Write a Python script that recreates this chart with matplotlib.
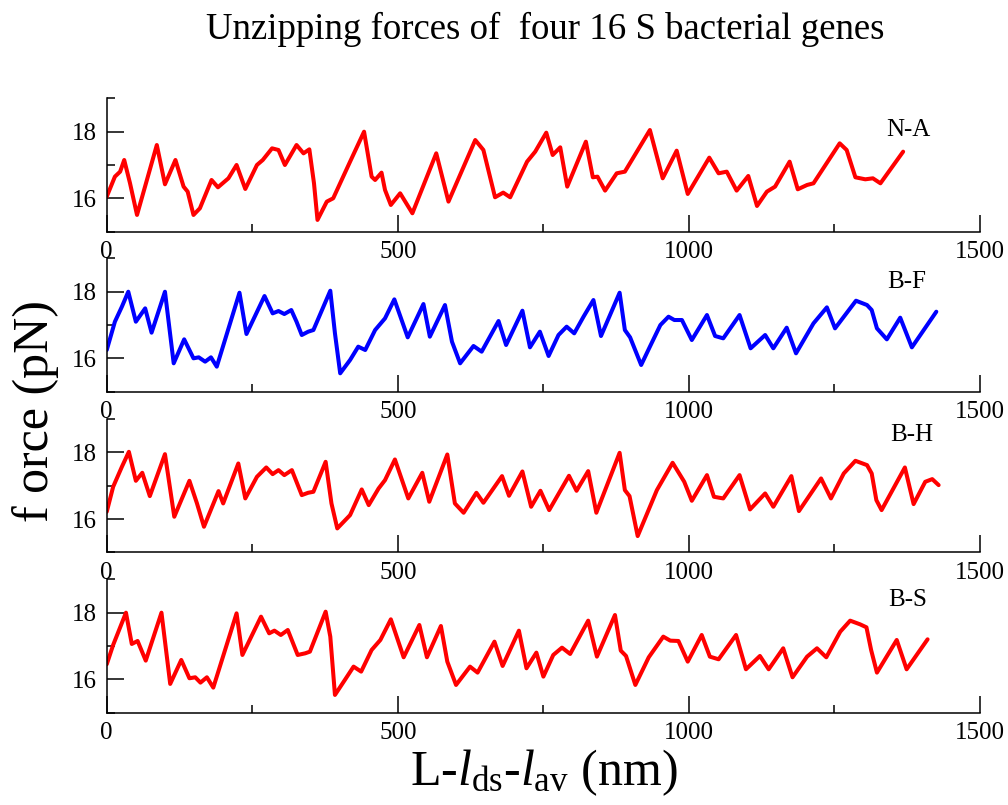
import numpy as np
import matplotlib
matplotlib.use('Agg')
import matplotlib.pyplot as plt
from matplotlib.ticker import MultipleLocator

plt.rcParams['font.family'] = 'Liberation Serif'
plt.rcParams['mathtext.fontset'] = 'custom'
plt.rcParams['mathtext.rm'] = 'Liberation Serif'
plt.rcParams['mathtext.it'] = 'Liberation Serif:italic'

# N-A
na_x = [0, 14, 23, 30, 40, 52, 86, 100, 118, 132, 139, 149, 160, 180, 191, 209, 223, 238,
        258, 268, 284, 295, 306, 326, 338, 348, 356, 362, 378, 389, 418, 442, 455, 461,
        472, 478, 488, 504, 525, 566, 587, 633, 647, 667, 681, 693, 722, 736, 755, 766,
        779, 791, 823, 835, 843, 856, 876, 890, 933, 955, 979, 998, 1035, 1051, 1065,
        1082, 1102, 1117, 1134, 1148, 1173, 1187, 1203, 1214, 1259, 1271, 1286, 1303,
        1316, 1329, 1368]
na_y = [16.05, 16.65, 16.8, 17.15, 16.45, 15.5, 17.6, 16.42, 17.15, 16.35, 16.2, 15.5,
        15.7, 16.55, 16.33, 16.6, 17.0, 16.28, 17.0, 17.15, 17.5, 17.45, 17.0, 17.6,
        17.35, 17.47, 16.45, 15.35, 15.9, 16.0, 17.1, 18.0, 16.65, 16.55, 16.77, 16.25,
        15.8, 16.15, 15.55, 17.35, 15.9, 17.75, 17.45, 16.03, 16.17, 16.03, 17.1, 17.4,
        17.97, 17.3, 17.53, 16.35, 17.7, 16.63, 16.65, 16.23, 16.75, 16.8, 18.05, 16.6,
        17.43, 16.13, 17.22, 16.75, 16.8, 16.23, 16.67, 15.77, 16.2, 16.35, 17.1, 16.27,
        16.4, 16.45, 17.65, 17.45, 16.63, 16.57, 16.6, 16.45, 17.4]

# B-F
bf_x = [0, 14, 26, 37, 50, 66, 77, 100, 115, 133, 149, 158, 169, 179, 189, 228, 240, 271,
        285, 295, 305, 317, 326, 335, 346, 355, 384, 392, 401, 418, 432, 444, 461, 478,
        494, 517, 544, 555, 581, 593, 607, 630, 644, 673, 686, 714, 727, 744, 759, 776,
        790, 803, 819, 836, 849, 881, 890, 899, 918, 933, 951, 965, 975, 988, 1005, 1031,
        1045, 1059, 1087, 1106, 1131, 1145, 1168, 1184, 1214, 1237, 1251, 1287, 1306,
        1314, 1323, 1340, 1363, 1383, 1425]
bf_y = [16.25, 17.1, 17.55, 18.0, 17.1, 17.5, 16.77, 18.0, 15.85, 16.57, 16.0, 16.03,
        15.9, 16.03, 15.75, 17.97, 16.73, 17.87, 17.35, 17.42, 17.33, 17.45, 17.1, 16.7,
        16.8, 16.85, 18.03, 16.75, 15.55, 15.95, 16.35, 16.25, 16.85, 17.2, 17.77, 16.63,
        17.63, 16.65, 17.6, 16.5, 15.85, 16.37, 16.2, 17.12, 16.4, 17.43, 16.33, 16.8,
        16.07, 16.7, 16.95, 16.75, 17.25, 17.75, 16.67, 17.97, 16.85, 16.63, 15.8, 16.35,
        17.0, 17.25, 17.15, 17.15, 16.55, 17.3, 16.67, 16.6, 17.3, 16.3, 16.7, 16.3,
        16.92, 16.15, 17.05, 17.53, 16.9, 17.73, 17.6, 17.45, 16.9, 16.57, 17.22, 16.33,
        17.4]

# B-H
bh_x = [0, 11, 26, 38, 50, 61, 74, 100, 116, 142, 155, 167, 192, 200, 226, 238, 258, 274,
        285, 295, 305, 318, 335, 346, 355, 376, 386, 396, 418, 438, 450, 467, 478, 495,
        518, 542, 554, 585, 598, 613, 635, 647, 679, 691, 714, 729, 745, 760, 794, 807,
        827, 841, 881, 890, 898, 912, 945, 972, 985, 992, 1005, 1031, 1043, 1059, 1087,
        1105, 1131, 1145, 1176, 1189, 1227, 1244, 1266, 1286, 1306, 1314, 1322, 1331,
        1371, 1386, 1406, 1418, 1429]
bh_y = [16.22, 16.97, 17.57, 18.02, 17.15, 17.39, 16.69, 17.95, 16.07, 17.15, 16.47,
        15.77, 16.84, 16.47, 17.67, 16.62, 17.27, 17.55, 17.35, 17.47, 17.32, 17.47,
        16.72, 16.79, 16.82, 17.72, 16.47, 15.72, 16.12, 16.89, 16.42, 16.92, 17.17,
        17.79, 16.62, 17.39, 16.52, 17.94, 16.47, 16.19, 16.79, 16.49, 17.29, 16.7, 17.43,
        16.37, 16.85, 16.27, 17.3, 16.85, 17.44, 16.19, 17.99, 16.87, 16.69, 15.49, 16.87,
        17.69, 17.32, 17.12, 16.55, 17.32, 16.67, 16.62, 17.32, 16.29, 16.77, 16.37,
        17.29, 16.24, 17.22, 16.62, 17.37, 17.75, 17.62, 17.37, 16.57, 16.27, 17.55,
        16.45, 17.12, 17.2, 17.02]

# B-S
bs_x = [0, 11, 33, 43, 53, 67, 94, 109, 128, 142, 152, 161, 172, 183, 223, 233, 265, 279,
        288, 299, 311, 328, 341, 349, 376, 384, 392, 409, 424, 437, 455, 470, 488, 510,
        537, 550, 574, 585, 600, 624, 637, 666, 680, 708, 721, 738, 750, 767, 782, 796,
        827, 842, 873, 883, 892, 908, 931, 956, 968, 982, 998, 1022, 1036, 1051, 1081,
        1098, 1122, 1137, 1162, 1178, 1203, 1220, 1236, 1260, 1277, 1294, 1305, 1313,
        1323, 1357, 1374, 1410]
bs_y = [16.45, 17.03, 18.0, 17.06, 17.15, 16.56, 18.0, 15.86, 16.58, 16.03, 16.06, 15.9,
        16.06, 15.75, 17.98, 16.73, 17.88, 17.38, 17.46, 17.33, 17.48, 16.73, 16.78,
        16.83, 18.03, 17.28, 15.53, 15.98, 16.38, 16.23, 16.88, 17.18, 17.8, 16.66,
        17.63, 16.66, 17.6, 16.53, 15.83, 16.38, 16.2, 17.13, 16.4, 17.46, 16.33, 16.8,
        16.08, 16.73, 16.95, 16.76, 17.76, 16.68, 17.93, 16.86, 16.7, 15.83, 16.66,
        17.28, 17.16, 17.15, 16.53, 17.33, 16.68, 16.6, 17.33, 16.3, 16.7, 16.3, 16.93,
        16.06, 16.68, 16.93, 16.66, 17.43, 17.76, 17.65, 17.56, 16.88, 16.2, 17.18,
        16.3, 17.2]

names = ['N-A', 'B-F', 'B-H', 'B-S']
colors = ['#ff0000', '#0000ff', '#ff0000', '#ff0000']
label_x = [1377, 1374, 1383, 1376]
label_y = [18.05, 18.3, 18.52, 18.38]
series = [(na_x, na_y), (bf_x, bf_y), (bh_x, bh_y), (bs_x, bs_y)]

fig = plt.figure(figsize=(10.08, 8.05), dpi=100)
bottoms = [0.7123, 0.5135, 0.3138, 0.1148]
left, width, height = 0.1059, 0.8663, 0.1655

for i in range(4):
    ax = fig.add_axes([left, bottoms[i], width, height])
    x, y = series[i]
    ax.plot(x, y, color=colors[i], lw=2.9, solid_joinstyle='round', solid_capstyle='round')
    ax.set_xlim(0, 1500)
    ax.set_ylim(15, 19)
    ax.spines['top'].set_visible(False)
    ax.spines['right'].set_visible(False)
    for s in ['left', 'bottom']:
        ax.spines[s].set_linewidth(1.1)
    ax.xaxis.set_major_locator(MultipleLocator(500))
    ax.xaxis.set_minor_locator(MultipleLocator(250))
    ax.yaxis.set_minor_locator(MultipleLocator(1))
    ax.set_yticks([16, 18])
    ax.tick_params(which='both', direction='in', top=False, right=False,
                   labelsize=18, width=1.1)
    ax.tick_params(which='major', length=12)
    ax.tick_params(which='minor', length=6)
    ax.tick_params(axis='x', pad=7)
    ax.tick_params(axis='y', pad=7)
    ax.text(label_x[i], label_y[i], names[i], fontsize=18, ha='center', va='center')

fig.text(0.541, 0.964, 'Unzipping forces of  four 16 S bacterial genes',
         fontsize=26.5, ha='center', va='center')
fig.text(0.035, 0.49, 'f orce (pN)', fontsize=36, rotation=90, ha='center', va='center')
fig.text(0.539, 0.04, r'L-$\mathit{l}_{\rm ds}$-$\mathit{l}_{\rm av}$ (nm)',
         fontsize=36, ha='center', va='center')

fig.savefig('out.png', dpi=100)
